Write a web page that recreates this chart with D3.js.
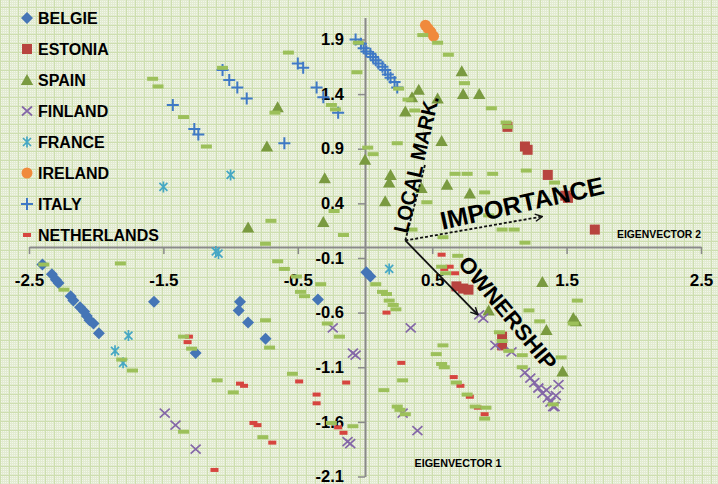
<!DOCTYPE html>
<html>
<head>
<meta charset="utf-8">
<script src="https://cdn.jsdelivr.net/npm/d3@7"></script>
<style>
  html, body { margin: 0; padding: 0; background: #e3ebd2; }
  svg { display: block; }
  text { font-family: "Liberation Sans", Arial, sans-serif; font-weight: bold; fill: #000; }
</style>
</head>
<body>
<svg id="chart" width="718" height="484"></svg>
<script>
// ---- Component scores (Eigenvector 1, Eigenvector 2) per country ----
const belgie = [[-2.40,-0.16],[-2.33,-0.25],[-2.30,-0.30],[-2.28,-0.33],[-2.19,-0.45],[-2.17,-0.49],
  [-2.12,-0.55],[-2.09,-0.59],[-2.07,-0.63],[-2.05,-0.67],[-2.02,-0.70],[-1.98,-0.79],[-1.57,-0.50],
  [-1.26,-0.97],[-0.93,-0.50],[-0.94,-0.58],[-0.87,-0.69],[-0.74,-0.84],[-0.35,-0.48],[0.01,-0.23],[0.04,-0.27]];
const estonia = [[1.06,1.10],[1.19,0.92],[1.21,0.89],[1.36,0.66],[1.49,0.47],[1.51,0.45],[1.71,0.16],
  [0.68,-0.36],[0.73,-0.38],[0.77,-0.39],[1.02,-0.82],[1.02,-0.90]];
const spain = [[-0.65,1.28],[-0.73,0.92],[-0.30,0.63],[-0.87,0.18],[-0.31,0.23],[0.00,0.80],[0.40,1.44],
  [0.35,1.37],[0.30,1.24],[0.54,1.36],[0.72,1.61],[0.73,1.40],[0.85,1.40],[0.57,0.97],[0.19,0.66],
  [0.18,0.59],[0.15,0.42],[0.42,0.54],[0.61,0.57],[0.78,0.49],[1.32,-0.32],[0.92,-0.58],[1.55,-0.65],
  [1.57,-0.68],[1.35,-0.76],[1.47,-1.14]];
const finland = [[-1.49,-1.52],[-1.41,-1.63],[-1.26,-1.85],[-0.24,-0.74],[-0.09,-0.97],[-0.07,-0.99],
  [-0.13,-1.78],[-0.11,-1.80],[0.34,-0.74],[0.28,-1.52],[0.39,-1.68],[0.85,-0.62],[0.88,-0.65],
  [0.97,-0.90],[1.09,-0.96],[1.19,-1.15],[1.23,-1.20],[1.26,-1.24],[1.29,-1.29],[1.32,-1.34],
  [1.35,-1.31],[1.36,-1.38],[1.38,-1.42],[1.41,-1.46],[1.42,-1.36],[1.44,-1.26],[1.40,-1.46]];
const france = [[-1.00,0.66],[-1.50,0.55],[-1.11,-0.04],[-1.09,-0.06],[-1.76,-0.81],[-1.86,-0.95],
  [-1.80,-1.06],[0.18,-0.20]];
const ireland = [[0.45,2.03],[0.47,2.00],[0.49,1.97],[0.51,1.93]];
const italy = [[-1.43,1.30],[-1.27,1.08],[-1.24,1.03],[-1.06,1.62],[-1.01,1.53],[-0.95,1.46],[-0.88,1.36],
  [-0.60,0.95],[-0.50,1.68],[-0.46,1.64],[-0.36,1.46],[-0.31,1.37],[-0.20,1.23],
  [-0.07,1.90],[-0.03,1.86],[-0.01,1.82],[0.01,1.79],[0.04,1.77],[0.06,1.74],[0.08,1.71],[0.10,1.68],
  [0.13,1.65],[0.15,1.62],[0.17,1.58],[0.19,1.55],[0.22,1.51],[0.24,1.46]];
const netherlands = [[-1.31,-0.82],[-1.32,-0.87],[-1.12,-2.04],[-0.93,-1.25],[-0.90,-1.27],[-0.49,-1.23],
  [-0.36,-1.35],[-0.36,-1.43],[-0.83,-1.61],[-0.80,-1.63],[-0.69,-1.79],[-0.20,-1.65],[-0.16,-1.70],
  [-0.14,-1.24],[0.16,-0.60],[0.27,-1.06],[0.66,-1.19],[0.71,-1.27],[0.78,-1.37],[0.84,-1.47],
  [0.89,-1.53],[0.57,-0.07],[0.63,-0.18],[0.59,-0.20],[0.67,-0.24]];
// remaining respondents (not listed in the legend)
const others = [[-1.58,1.54],[-1.54,1.47],[-1.06,1.64],[-1.35,1.19],[-1.18,0.92],[-0.57,1.78],[-0.06,1.60],
  [-0.25,1.30],[-0.22,1.26],[-0.67,1.23],[-0.05,1.87],[0.02,0.91],[0.06,0.85],[0.25,1.45],[0.32,1.35],
  [0.37,1.25],[0.24,0.95],[0.67,0.67],[0.76,0.67],[0.46,0.41],[-0.23,0.33],[-0.70,0.24],[-0.16,0.11],
  [-0.74,0.03],[0.74,1.50],[0.62,1.76],[0.54,1.87],[0.43,1.94],[0.94,1.27],[1.05,1.14],[1.06,1.10],
  [1.20,0.70],[0.95,0.67],[0.89,0.50],[1.41,0.59],[0.92,0.29],[1.02,0.16],[1.11,0.16],[1.19,0.04],
  [0.35,0.16],[0.58,0.09],[0.69,-0.08],[-0.65,-0.13],[-0.60,-0.20],[-0.51,-0.27],[-0.48,-0.41],
  [-0.45,-0.45],[-0.33,-0.34],[-0.74,-0.67],[-0.71,-0.92],[-0.28,-0.70],[-0.19,-0.82],[-0.54,-1.16],
  [-0.25,-1.61],[-0.09,-1.64],[-0.76,-1.74],[0.08,-0.34],[0.13,-0.41],[0.16,-0.43],[0.18,-0.49],
  [0.21,-0.53],[0.23,-0.57],[0.58,-0.90],[0.53,-0.98],[0.57,-1.07],[0.59,-1.10],[0.28,-1.22],
  [0.14,-1.31],[0.24,-1.46],[0.26,-1.49],[0.30,-1.53],[0.68,-1.24],[0.76,-1.35],[0.82,-1.46],
  [0.57,-0.18],[0.60,-0.24],[-1.82,-0.15],[-2.24,-0.39],[-1.35,-0.82],[-1.29,-0.93],[-1.81,-1.03],
  [-1.73,-1.13],[-1.35,-1.69],[-1.10,-1.22],[-0.98,-1.33],[-2.39,-0.16],[1.58,-0.49],[1.22,-0.58],
  [1.30,-0.68],[1.00,-0.78],[1.55,-0.70],[1.46,-1.01],[1.07,-0.95],[1.17,-0.99],[1.17,-1.10],
  [1.40,-1.44],[0.90,-1.47],[0.89,-1.57],[1.02,-0.86]];

const xTicks = [-2.5, -1.5, -0.5, 0.5, 1.5, 2.5];
const yTicks = [1.9, 1.4, 0.9, 0.4, -0.1, -0.6, -1.1, -1.6, -2.1];
const legendLabels = ["BELGIE", "ESTONIA", "SPAIN", "FINLAND", "FRANCE", "IRELAND", "ITALY", "NETHERLANDS"];

// factor directions drawn from a common origin
const arrowOrigin = [0.30, 0.06];
const arrowTips = { local: [0.45, 0.77], importance: [1.32, 0.28], ownership: [0.84, -0.62] };

// ---- drawing ----
const svg = d3.select("#chart");
const W = 718, H = 484;
const x = d3.scaleLinear().domain([-2.5, 2.5]).range([29, 701]);
const y = d3.scaleLinear().domain([-2.1, 2.1]).range([476.5, 17.6]);

const defs = svg.append("defs");
const pat = defs.append("pattern").attr("id", "paper")
  .attr("patternUnits", "userSpaceOnUse").attr("width", 9).attr("height", 9).attr("y", 7);
pat.append("rect").attr("width", 9).attr("height", 9).attr("fill", "#e2ebd1");
for (let i = 1; i < 9; i += 2) for (let j = 1; j < 9; j += 2)
  pat.append("rect").attr("x", i).attr("y", j).attr("width", 1).attr("height", 1)
    .attr("fill", "#f2f6ea");
pat.append("rect").attr("width", 9).attr("height", 1).attr("fill", "#cddeaf");
pat.append("rect").attr("width", 1).attr("height", 9).attr("fill", "#cddeaf");

defs.append("marker").attr("id", "head").attr("viewBox", "0 0 10 10")
  .attr("refX", 9).attr("refY", 5).attr("markerWidth", 9).attr("markerHeight", 9)
  .attr("markerUnits", "userSpaceOnUse").attr("orient", "auto")
  .append("path").attr("d", "M1,1 L9,5 L1,9").attr("fill", "none").attr("stroke", "#111").attr("stroke-width", 1.6);

svg.append("rect").attr("width", W).attr("height", H).attr("fill", "url(#paper)");

// axes crossing at the origin
const xAxis = d3.axisBottom(x).tickValues(xTicks).tickSize(7).tickSizeOuter(0)
  .tickFormat(d => d.toFixed(1));
const yAxis = d3.axisLeft(y).tickValues(yTicks).tickSize(7).tickSizeOuter(0)
  .tickPadding(14).tickFormat(d => d.toFixed(1));

const gx = svg.append("g").attr("transform", `translate(0,${y(0)})`).call(xAxis);
const gy = svg.append("g").attr("transform", `translate(${x(0)},0)`).call(yAxis);
[gx, gy].forEach(g => {
  g.select(".domain").attr("stroke", "#8a8a8a").attr("stroke-width", 2);
  g.selectAll(".tick line").attr("stroke", "#8a8a8a").attr("stroke-width", 1.5);
  g.selectAll(".tick text").attr("font-size", 17).attr("font-family", "'Liberation Sans', Arial, sans-serif")
    .attr("font-weight", "bold").attr("fill", "#000");
});
gx.selectAll(".tick text").attr("y", 27);
gy.selectAll(".tick text").attr("font-size", 16.5);

// marker shapes
const shapes = {
  diamond: "M0,-6L6,0L0,6L-6,0Z",
  square: "M-5,-5H5V5H-5Z",
  triangle: "M0,-6L6.2,5H-6.2Z",
  times: "M-5,-4.5L5,4.5M-5,4.5L5,-4.5",
  star: "M-4,-4L4,4M-4,4L4,-4M0,-5.5V5.5",
  plus: "M-6,0H6M0,-6V6",
  dashR: "M-4,-2H4V2H-4Z",
  dashG: "M-5.5,-2H5.5V2H-5.5Z"
};
const series = [
  { data: belgie, shape: "diamond", fill: "#4575b6", stroke: "none" },
  { data: estonia, shape: "square", fill: "#b8443f", stroke: "none" },
  { data: spain, shape: "triangle", fill: "#7a9a40", stroke: "none" },
  { data: finland, shape: "times", fill: "none", stroke: "#8467a8" },
  { data: france, shape: "star", fill: "none", stroke: "#45a7c4" },
  { data: ireland, shape: "circle", fill: "#f08a3c", stroke: "none" },
  { data: italy, shape: "plus", fill: "none", stroke: "#3f79c6" },
  { data: netherlands, shape: "dashR", fill: "#d6453f", stroke: "none" },
  { data: others, shape: "dashG", fill: "#9cc05a", stroke: "none" }
];

function drawMark(sel, s) {
  if (s.shape === "circle") {
    sel.append("circle").attr("r", 5.5).attr("fill", s.fill);
  } else {
    sel.append("path").attr("d", shapes[s.shape]).attr("fill", s.fill)
      .attr("stroke", s.stroke).attr("stroke-width", s.shape === "plus" ? 2 : 1.7);
  }
}

series.forEach(s => {
  const g = svg.append("g");
  g.selectAll("g").data(s.data).join("g")
    .attr("transform", d => `translate(${x(d[0])},${y(d[1])})`)
    .each(function () { drawMark(d3.select(this), s); });
});

// legend
const lg = svg.append("g");
legendLabels.forEach((name, i) => {
  const row = lg.append("g").attr("transform", `translate(27,${18 + i * 31})`);
  drawMark(row, series[i]);
  row.append("text").attr("x", 11).attr("dy", "0.36em").attr("font-size", 16).text(name);
});

// factor arrows
const ox = x(arrowOrigin[0]), oy = y(arrowOrigin[1]);
const arrows = [
  { tip: arrowTips.local, dash: "3,2", head: false },
  { tip: arrowTips.importance, dash: "3,2", head: true },
  { tip: arrowTips.ownership, dash: null, head: true }
];
arrows.forEach(a => {
  svg.append("line").attr("x1", ox).attr("y1", oy).attr("x2", x(a.tip[0])).attr("y2", y(a.tip[1]))
    .attr("stroke", "#111").attr("stroke-width", 1.8)
    .attr("stroke-dasharray", a.dash).attr("marker-end", a.head ? "url(#head)" : null);
});

const notes = [
  { t: "LOCAL MARK.", cx: 416, cy: 164, rot: -77, size: 21, len: 140 },
  { t: "IMPORTANCE", cx: 522, cy: 203, rot: -12.5, size: 25, len: 167 },
  { t: "OWNERSHIP", cx: 508, cy: 313, rot: 50.5, size: 22, len: 140 }
];
notes.forEach(n => {
  svg.append("text").attr("transform", `translate(${n.cx},${n.cy}) rotate(${n.rot})`)
    .attr("text-anchor", "middle").attr("dy", "0.36em").attr("font-size", n.size)
    .attr("textLength", n.len).attr("lengthAdjust", "spacingAndGlyphs").text(n.t);
});

// axis titles
svg.append("text").attr("x", 659).attr("y", 234).attr("dy", "0.36em").attr("text-anchor", "middle")
  .attr("font-size", 10).attr("textLength", 84).attr("lengthAdjust", "spacingAndGlyphs").text("EIGENVECTOR 2");
svg.append("text").attr("x", 458).attr("y", 463).attr("dy", "0.36em").attr("text-anchor", "middle")
  .attr("font-size", 10).attr("textLength", 87).attr("lengthAdjust", "spacingAndGlyphs").text("EIGENVECTOR 1");
</script>
</body>
</html>
